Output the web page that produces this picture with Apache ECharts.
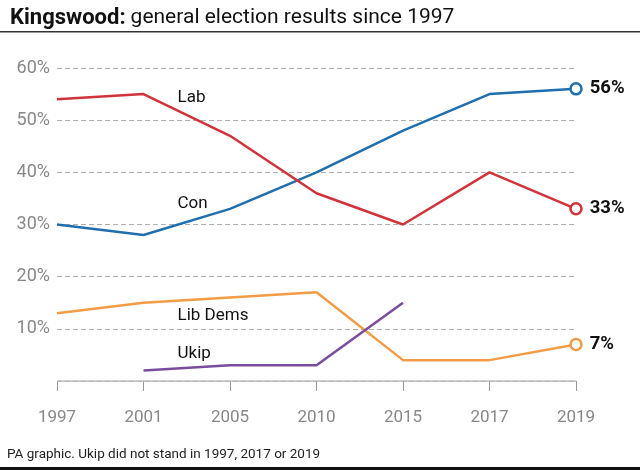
<!DOCTYPE html>
<html>
<head>
<meta charset="utf-8">
<script src="https://cdn.jsdelivr.net/npm/echarts@6/dist/echarts.min.js"></script>
<style>html,body{margin:0;padding:0;background:#fff}#c{width:640px;height:470px}</style>
</head>
<body>
<div id="c"></div>
<script>
var years = ['1997', '2001', '2005', '2010', '2015', '2017', '2019'];
var lab = [54, 55, 47, 36, 30, 40, 33];
var con = [30, 28, 33, 40, 48, 55, 56];
var libDems = [13, 15, 16, 17, 4, 4, 7];
var ukip = [null, 2, 3, 3, 15, null, null];
var yTicks = [0, 10, 20, 30, 40, 50, 60];
var partyLabels = [
  { name: 'Lab', at: '2001', value: 54.3 },
  { name: 'Con', at: '2001', value: 33.9 },
  { name: 'Lib Dems', at: '2001', value: 12.6 },
  { name: 'Ukip', at: '2001', value: 5.2 }
];

var colors = { Lab: '#d1333b', Con: '#1f6fae', 'Lib Dems': '#f29c45', Ukip: '#7a4c9e' };
var FONT = 'Roboto, "Liberation Sans", sans-serif';

function buildData(arr, color, showEnd) {
  return arr.map(function (v, i) {
    if (showEnd && i === arr.length - 1) {
      return {
        value: v,
        symbol: 'circle',
        symbolSize: 11,
        itemStyle: { color: '#fff', borderColor: color, borderWidth: 2.5 },
        label: {
          show: true, position: 'right', distance: 7,
          formatter: v + '%', color: '#111', fontSize: 18.5, fontWeight: 'bold', fontFamily: FONT
        }
      };
    }
    return v;
  });
}

function nameMark(name) {
  var p = partyLabels.filter(function (d) { return d.name === name; })[0];
  return {
    symbol: 'circle', symbolSize: 0, silent: true,
    label: {
      show: true, position: 'right', distance: 34, formatter: '{b}',
      color: '#111', fontSize: 17, fontFamily: FONT
    },
    data: [{ name: p.name, coord: [p.at, p.value] }]
  };
}

function lineSeries(name, arr, showEnd) {
  return {
    name: name, type: 'line', data: buildData(arr, colors[name], showEnd),
    symbol: 'none', showSymbol: true, connectNulls: false, z: 3,
    lineStyle: { color: colors[name], width: 2.5 },
    itemStyle: { color: colors[name] },
    markPoint: nameMark(name),
    animation: false
  };
}

var chart = echarts.init(document.getElementById('c'), null, { renderer: 'canvas' });
var series = [
  lineSeries('Lib Dems', libDems, true),
  lineSeries('Ukip', ukip, false),
  lineSeries('Con', con, true),
  lineSeries('Lab', lab, true)
];
series[0].markLine = {
  silent: true, symbol: 'none', label: { show: false },
  lineStyle: { color: '#bbbbbb', type: 'solid', width: 1.5 },
  data: [{ yAxis: yTicks[0] }], animation: false
};

chart.setOption({
  animation: false,
  title: {
    left: 5, top: 2,
    text: '{b|Kingswood:} {r|general election results since 1997}',
    textStyle: {
      rich: {
        b: { fontFamily: FONT, fontSize: 22, fontWeight: 'bold', color: '#111' },
        r: { fontFamily: FONT, fontSize: 21, fontWeight: 'normal', color: '#111' }
      }
    }
  },
  graphic: [
    { type: 'rect', shape: { x: 0, y: 31, width: 640, height: 1.5 }, style: { fill: '#333' } },
    { type: 'text', left: 7, top: 448, style: { text: 'PA graphic. Ukip did not stand in 1997, 2017 or 2019', fontFamily: FONT, fontSize: 13.5, fill: '#222' } },
    { type: 'rect', shape: { x: 0, y: 467, width: 640, height: 3 }, style: { fill: '#111' } }
  ],
  grid: { left: 57, right: 64, top: 68, bottom: 89 },
  xAxis: {
    type: 'category', data: years, boundaryGap: false, offset: 12,
    axisLine: { show: false },
    axisTick: { show: true, length: 10, lineStyle: { color: '#999', width: 1 } },
    axisLabel: { color: '#888', fontSize: 17, fontFamily: FONT, margin: 16 },
    splitLine: { show: false }
  },
  yAxis: {
    type: 'value', min: yTicks[0], max: yTicks[yTicks.length - 1], interval: 10,
    axisLine: { show: false }, axisTick: { show: false },
    axisLabel: {
      color: '#888', fontSize: 18, fontFamily: FONT, margin: 7,
      formatter: function (v) { return v === 0 ? '' : v + '%'; }
    },
    splitLine: { show: true, lineStyle: { color: '#b0b0b0', type: [5, 3], width: 1 } }
  },
  series: series
});
</script>
</body>
</html>
